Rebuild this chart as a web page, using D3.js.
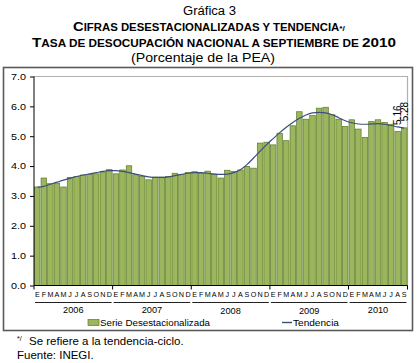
<!DOCTYPE html>
<html><head><meta charset="utf-8">
<script src="https://cdn.jsdelivr.net/npm/d3@7"></script>
<style>
body{margin:0;background:#fff}
svg{display:block}
text{font-family:"Liberation Sans",Arial,sans-serif;fill:#000}
</style>
</head><body>
<svg id="c" width="418" height="363"></svg>
<script>
const years = ["2006","2007","2008","2009","2010"];
const monthLetters = ["E","F","M","A","M","J","J","A","S","O","N","D"];
const monthsPerYear = [12,12,12,12,9];
const serie = [
  3.30,3.60,3.41,3.43,3.30,3.62,3.65,3.70,3.72,3.74,3.80,3.88,
  3.74,3.87,4.01,3.71,3.65,3.54,3.63,3.63,3.65,3.76,3.72,3.78,
  3.81,3.76,3.83,3.73,3.60,3.86,3.82,3.87,3.99,3.93,4.77,4.80,
  4.71,5.10,4.85,5.35,5.82,5.57,5.69,5.94,5.97,5.72,5.57,5.33,
  5.55,5.24,4.96,5.49,5.55,5.46,5.40,5.16,5.28
];
const tendencia = [
  3.29,3.32,3.39,3.46,3.53,3.59,3.65,3.70,3.74,3.78,3.82,3.85,
  3.85,3.82,3.78,3.73,3.68,3.64,3.62,3.62,3.64,3.68,3.72,3.76,
  3.78,3.78,3.76,3.73,3.72,3.73,3.78,3.88,4.05,4.27,4.50,4.72,
  4.92,5.12,5.30,5.46,5.60,5.71,5.78,5.80,5.78,5.72,5.62,5.52,
  5.45,5.41,5.40,5.41,5.42,5.40,5.36,5.31,5.27
];
const yTicks = [0,1,2,3,4,5,6,7];
const labeledMonths = [55,56];

// categories
const cats = [];
years.forEach((y,yi)=>{ for(let m=0;m<monthsPerYear[yi];m++) cats.push({key:y+"-"+m, year:y, m:m}); });
const data = cats.map((c,i)=>({...c, v:serie[i], t:tendencia[i], i:i}));

const svg = d3.select("#c");
const L=34, R=407.5, T=76.5, B=285.5;
const x = d3.scaleBand().domain(cats.map(c=>c.key)).range([L,R]).paddingInner(0.16).paddingOuter(0.08);
const y = d3.scaleLinear().domain([0,7]).range([B,T]);

// outer chart box
svg.append("rect").attr("x",3.5).attr("y",67.5).attr("width",409).attr("height",263)
  .attr("fill","none").attr("stroke","#5a5a5a").attr("stroke-width",1.6);

// titles
function stretched(x0, yPos, len, parts, bold, size){
  const t = svg.append("text").attr("x",x0).attr("y",yPos)
    .attr("textLength",len).attr("lengthAdjust","spacingAndGlyphs");
  if(bold) t.attr("font-weight","bold");
  if(size) t.attr("font-size",size);
  if(parts) parts.forEach(p=>t.append("tspan").attr("font-size",p[1]).text(p[0]));
  return t;
}
stretched(183,15,53,null,false,12.5).text("Gráfica 3");
stretched(73,31,272,[["C",13],["IFRAS DESESTACIONALIZADAS  Y TENDENCIA",10],["*/",7.5]],true);
stretched(32,47,364,[["T",13],["ASA DE DESOCUPACIÓN NACIONAL A SEPTIEMBRE DE ",10],["2010",13]],true);
stretched(131,62,144,null,false,12.5).text("(Porcentaje de la PEA)");

// plot area border (top/right gray)
svg.append("path").attr("d",`M${L},${T}H${R}V${B}`).attr("fill","none").attr("stroke","#b0b0b0").attr("stroke-width",1.2);

// bars
svg.append("g").selectAll("rect").data(data).join("rect")
  .attr("x",d=>x(d.key)).attr("width",x.bandwidth())
  .attr("y",d=>y(d.v)).attr("height",d=>y(0)-y(d.v))
  .attr("fill","#9bb65c").attr("stroke","#5c7a2b").attr("stroke-width",0.7);

// trend line
const line = d3.line().x(d=>x(d.key)+x.bandwidth()/2).y(d=>y(d.t)).curve(d3.curveMonotoneX);
svg.append("path").datum(data).attr("d",line).attr("fill","none").attr("stroke","#3c4f7c").attr("stroke-width",1.2);

// data labels
labeledMonths.forEach(i=>{
  const d = data[i];
  const px = x(d.key)+x.bandwidth()/2+3.5, py = y(d.v)-6.5;
  svg.append("text").attr("transform",`translate(${px},${py}) rotate(-90)`).attr("font-size",10).attr("fill","#222").text(d3.format(".2f")(d.v));
});

// y axis
const yAxis = d3.axisLeft(y).tickValues(yTicks).tickFormat(d3.format(".1f")).tickSize(4).tickPadding(4);
const gy = svg.append("g").attr("transform",`translate(${L},0)`).call(yAxis);
gy.select(".domain").attr("stroke","#000").attr("d",`M0,${B}V${T}`);
gy.selectAll("text").attr("font-size",9).attr("font-family","Liberation Sans, Arial, sans-serif").attr("fill","#222")
  .attr("textLength",15).attr("lengthAdjust","spacingAndGlyphs");

// x axis line
svg.append("line").attr("x1",L).attr("x2",R).attr("y1",B).attr("y2",B).attr("stroke","#000");
// year boundary ticks
const step = x.step();
const bounds = [0];
monthsPerYear.reduce((a,n)=>{bounds.push(a+n);return a+n;},0);
bounds.forEach(bi=>{
  const bx = bi<cats.length ? x(cats[bi].key)-step*x.paddingInner()/2 : R;
  svg.append("line").attr("x1",bx).attr("x2",bx).attr("y1",B).attr("y2",B+4).attr("stroke","#000");
});
// month letters
svg.append("g").selectAll("text").data(data).join("text")
  .attr("x",d=>x(d.key)+x.bandwidth()/2).attr("y",297).attr("text-anchor","middle")
  .attr("font-size",7.2).attr("fill","#222").text(d=>monthLetters[d.m]);
// year groups
years.forEach((yr,yi)=>{
  const first = cats[bounds[yi]], last = cats[bounds[yi+1]-1];
  const x0 = x(first.key)-0.5, x1 = x(last.key)+x.bandwidth()+0.5;
  svg.append("line").attr("x1",x0+1).attr("x2",x1-1).attr("y1",302.5).attr("y2",302.5).attr("stroke","#222").attr("stroke-width",1);
  svg.append("text").attr("x",(x0+x1)/2).attr("y",(yi==2||yi==3)?314:312.5).attr("text-anchor","middle").attr("font-size",9.2).attr("fill","#222").text(yr);
});

// legend
svg.append("rect").attr("x",88).attr("y",319.5).attr("width",11).attr("height",6).attr("fill","#9bb65c").attr("stroke","#5c7a2b").attr("stroke-width",0.7);
svg.append("text").attr("x",100).attr("y",326).attr("font-size",8.5).attr("fill","#222")
  .attr("textLength",110).attr("lengthAdjust","spacingAndGlyphs").text("Serie Desestacionalizada");
svg.append("line").attr("x1",282).attr("x2",292).attr("y1",322.5).attr("y2",322.5).attr("stroke","#3c4f7c").attr("stroke-width",1.4);
svg.append("text").attr("x",293).attr("y",326).attr("font-size",8.5).attr("fill","#222")
  .attr("textLength",46).attr("lengthAdjust","spacingAndGlyphs").text("Tendencia");

// footer
svg.append("text").attr("x",17).attr("y",341).attr("font-size",7).text("*/");
svg.append("text").attr("x",29).attr("y",345).attr("font-size",11.5).text("Se refiere a la tendencia-ciclo.");
svg.append("text").attr("x",17).attr("y",359).attr("font-size",11.5).text("Fuente: INEGI.");
</script>
</body></html>
